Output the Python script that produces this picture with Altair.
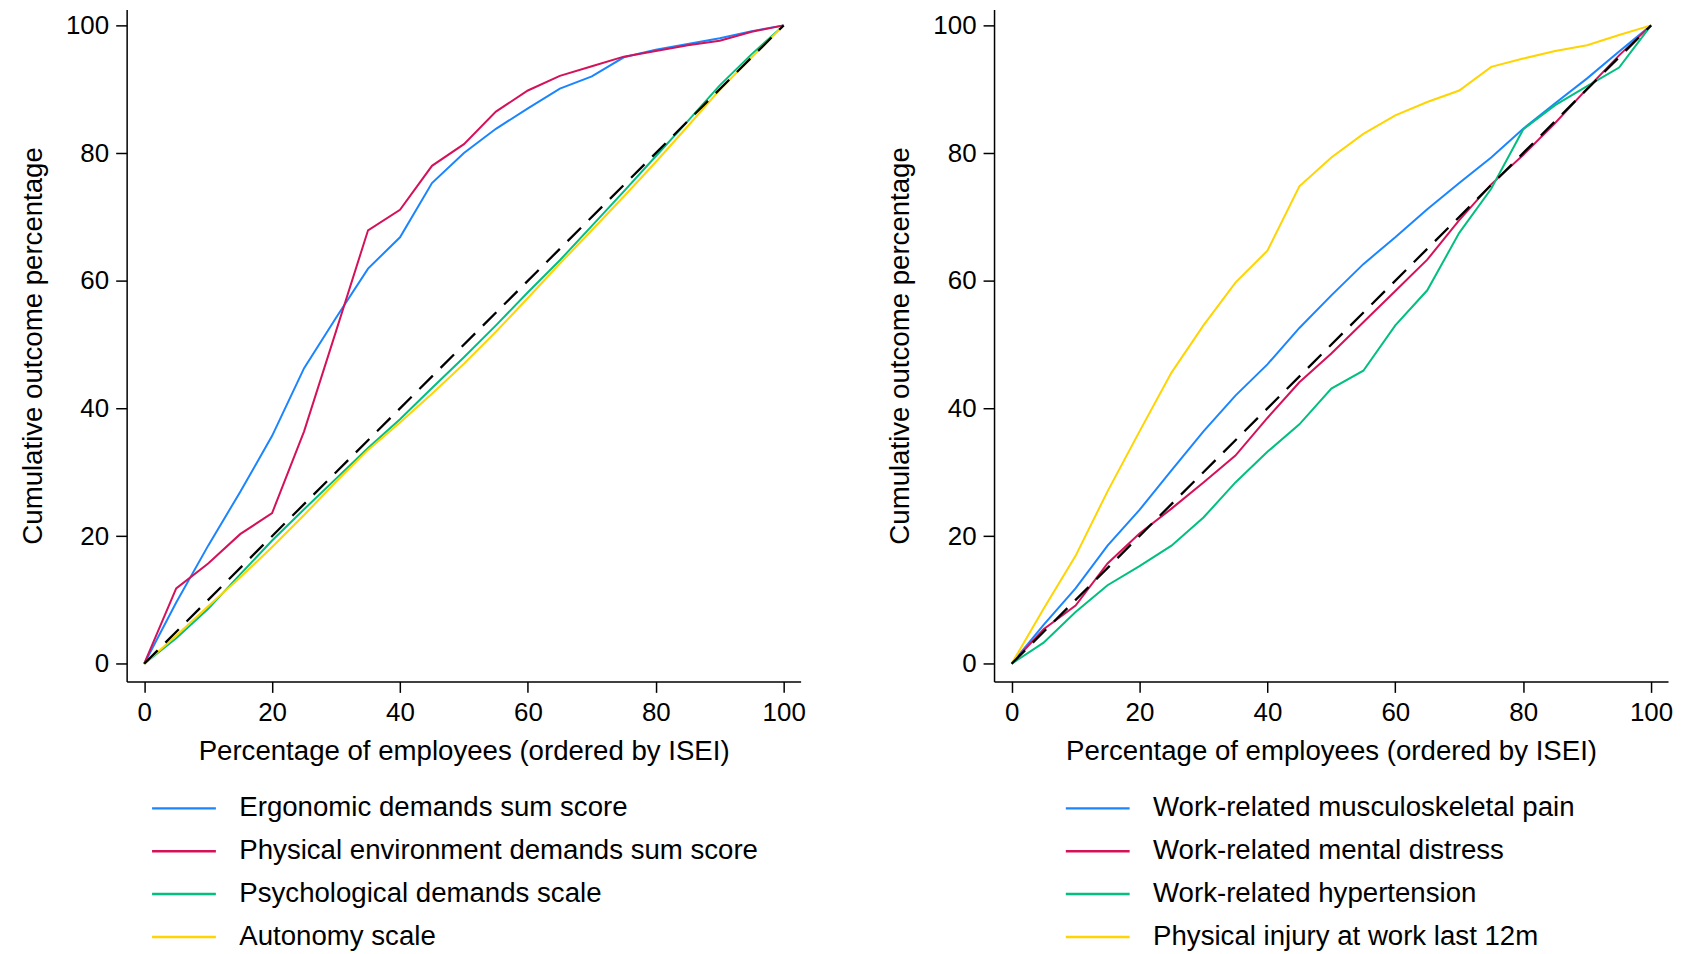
import altair as alt
import pandas as pd

# ---------------- data ----------------
xs = [0, 5, 10, 15, 20, 25, 30, 35, 40, 45, 50, 55, 60, 65, 70, 75, 80, 85, 90, 95, 100]
ticks = [0, 20, 40, 60, 80, 100]

left_names = [
    "Ergonomic demands sum score",
    "Physical environment demands sum score",
    "Psychological demands scale",
    "Autonomy scale",
]
ergonomic = [0, 9.6, 18.5, 26.9, 35.7, 46.3, 54.2, 61.9, 66.8, 75.3, 80.0, 83.8, 87.0, 90.1, 92.0, 95.0, 96.2, 97.1, 98.0, 99.1, 100]
physical_env = [0, 11.8, 15.7, 20.3, 23.6, 36.4, 52.1, 67.9, 71.1, 78.0, 81.4, 86.5, 89.8, 92.1, 93.6, 95.1, 96.0, 96.9, 97.6, 99.0, 100]
psychological = [0, 4.0, 8.6, 14.0, 19.3, 24.2, 29.0, 33.8, 38.3, 43.2, 48.0, 53.0, 58.2, 63.2, 68.6, 74.0, 79.5, 85.0, 90.6, 95.5, 100]
autonomy = [0, 4.4, 9.0, 13.5, 18.3, 23.3, 28.5, 33.5, 37.8, 42.3, 47.0, 52.0, 57.3, 62.7, 67.9, 73.2, 78.6, 84.2, 89.9, 95.0, 100]

right_names = [
    "Work-related musculoskeletal pain",
    "Work-related mental distress",
    "Work-related hypertension",
    "Physical injury at work last 12m",
]
musculoskeletal = [0, 6.1, 11.8, 18.5, 24.1, 30.3, 36.4, 42.0, 46.9, 52.6, 57.7, 62.6, 66.8, 71.2, 75.3, 79.3, 83.8, 87.8, 91.7, 95.9, 100]
mental = [0, 5.4, 9.1, 15.7, 20.4, 24.3, 28.4, 32.6, 38.5, 44.1, 48.6, 53.5, 58.4, 63.3, 69.5, 75.1, 79.7, 84.7, 90.1, 95.3, 100]
hypertension = [0, 3.3, 8.1, 12.3, 15.3, 18.5, 22.9, 28.4, 33.2, 37.5, 43.1, 45.9, 53.0, 58.5, 67.5, 74.4, 83.7, 87.5, 90.5, 93.4, 100]
injury = [0, 8.6, 16.9, 27.0, 36.4, 45.6, 53.0, 59.7, 64.7, 74.8, 79.3, 83.0, 85.9, 88.0, 89.8, 93.5, 94.8, 96.0, 96.9, 98.5, 100]

diag_x = [0, 100]
diag_y = [0, 100]

colors = ["#1a85ff", "#d41159", "#00bf7f", "#ffd400"]

x_title = "Percentage of employees (ordered by ISEI)"
y_title = "Cumulative outcome percentage"

FONT = "Liberation Sans"
TEXT_SIZE = 27.7


def panel(names, series, legend_x):
    rows = []
    for order, (name, vals) in enumerate(zip(names, series)):
        for x, y in zip(xs, vals):
            rows.append({"x": x, "y": y, "series": name, "k": order})
    df = pd.DataFrame(rows)
    xscale = alt.Scale(domain=[-2.75, 102.65], nice=False, zero=False)
    yscale = alt.Scale(domain=[-2.77, 102.5], nice=False, zero=False)
    xaxis = alt.Axis(values=ticks, title=x_title, grid=False)
    yaxis = alt.Axis(values=ticks, title=y_title, grid=False)
    lines = alt.Chart(df).mark_line(strokeWidth=2).encode(
        x=alt.X("x:Q", scale=xscale, axis=xaxis),
        y=alt.Y("y:Q", scale=yscale, axis=yaxis),
        color=alt.Color(
            "series:N",
            scale=alt.Scale(domain=names, range=colors),
            legend=alt.Legend(
                title=None,
                orient="none",
                direction="vertical",
                legendX=legend_x,
                legendY=780,
                symbolType="stroke",
                symbolSize=4096,
                symbolStrokeWidth=2.5,
                labelFontSize=TEXT_SIZE,
                labelFont=FONT,
                labelColor="black",
                labelOffset=22,
                labelLimit=900,
                clipHeight=42.7,
                rowPadding=0,
                padding=0,
            ),
        ),
    )
    diag = alt.Chart(pd.DataFrame({"x": diag_x, "y": diag_y})).mark_line(
        color="black", strokeDash=[19, 11], strokeWidth=2.3
    ).encode(
        x=alt.X("x:Q", scale=xscale, axis=xaxis),
        y=alt.Y("y:Q", scale=yscale, axis=yaxis),
    )
    return alt.layer(lines, diag).properties(width=676, height=674)


left = panel(left_names, [ergonomic, physical_env, psychological, autonomy], 24)
right = panel(right_names, [musculoskeletal, mental, hypertension, injury], 70.5)

chart = (
    alt.hconcat(left, right, spacing=81)
    .resolve_scale(color="independent")
    .resolve_legend(color="independent")
    .properties(padding={"left": 11, "top": 0, "right": 0, "bottom": 0}, background="white")
    .configure(font=FONT)
    .configure_view(stroke=None)
    .configure_axis(
        domainColor="black",
        domainWidth=1.5,
        tickColor="black",
        tickWidth=1.5,
        tickSize=11,
        labelFontSize=26,
        labelColor="black",
        labelFont=FONT,
        labelPadding=7,
        titleFontSize=TEXT_SIZE,
        titleFontWeight="normal",
        titleColor="black",
        titleFont=FONT,
    )
    .configure_axisX(titlePadding=12)
    .configure_axisY(titlePadding=18)
)

chart.save("out.html", embed_options={"renderer": "svg", "actions": False})
